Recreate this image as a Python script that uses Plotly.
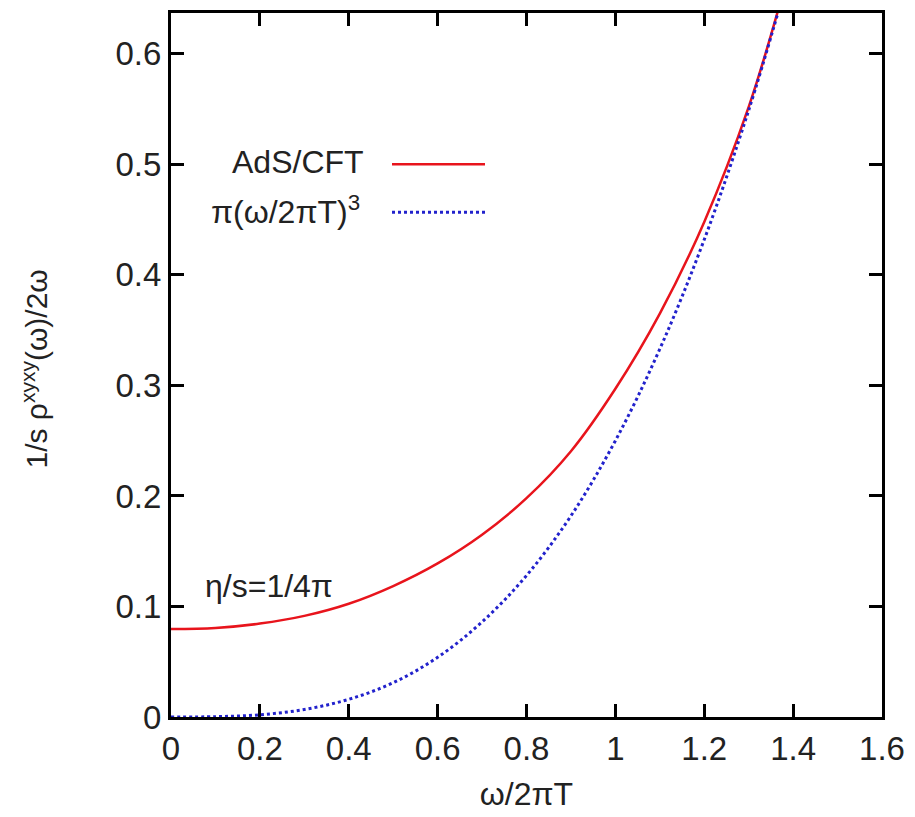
import plotly.graph_objects as go

# values
x_ads = [0.0, 0.1, 0.2, 0.3, 0.4, 0.5, 0.6, 0.7, 0.8, 0.9, 1.0, 1.1, 1.2, 1.3, 1.37]
y_ads = [0.0796, 0.0806, 0.0845, 0.0915, 0.1025, 0.1185, 0.1390, 0.1650, 0.1980, 0.2405,
         0.2970, 0.3650, 0.4480, 0.5520, 0.6450]

x_cube = [0.0, 0.1, 0.2, 0.3, 0.4, 0.5, 0.6, 0.7, 0.8, 0.9, 1.0, 1.1, 1.2, 1.3, 1.37]
y_cube = [0.0, 0.0003, 0.002, 0.0068, 0.016, 0.031, 0.054, 0.086, 0.128, 0.182,
          0.250, 0.333, 0.432, 0.549, 0.643]

x_ticks = [0, 0.2, 0.4, 0.6, 0.8, 1.0, 1.2, 1.4, 1.6]
x_labels = ["0", "0.2", "0.4", "0.6", "0.8", "1", "1.2", "1.4", "1.6"]
y_ticks = [0, 0.1, 0.2, 0.3, 0.4, 0.5, 0.6]
y_labels = ["0", "0.1", "0.2", "0.3", "0.4", "0.5", "0.6"]

FONT = "Liberation Sans, Arial, sans-serif"
TXT = "#222222"
RED = "#e8141c"
BLUE = "#2222cc"

fig = go.Figure()
fig.add_trace(go.Scatter(x=x_ads, y=y_ads, mode="lines",
                         line=dict(color=RED, width=2.5, shape="spline"), showlegend=False))
fig.add_trace(go.Scatter(x=x_cube, y=y_cube, mode="lines",
                         line=dict(color=BLUE, width=3, dash="dot", shape="spline"), showlegend=False))

axis_common = dict(showgrid=False, zeroline=False, showline=True, linecolor="black", linewidth=3,
                   mirror="ticks", ticks="inside", ticklen=13, tickwidth=3, tickcolor="black",
                   tickfont=dict(family=FONT, size=33, color=TXT))

fig.update_xaxes(range=[0, 1.6], tickvals=x_ticks, ticktext=x_labels,
                 title=dict(text="ω/2πT", font=dict(family=FONT, size=32, color=TXT), standoff=18),
                 **axis_common)
fig.update_yaxes(range=[0, 0.637], tickvals=y_ticks, ticktext=y_labels, **axis_common)

# page has an 8px body margin: figure placed so plot area spans 171..882 x 10..717 on screen
OFF = 8
W, H = 915 - OFF, 817 - OFF
L, R, T, B = 171 - OFF, 33, 10 - OFF, 100
pw, ph = W - L - R, H - T - B


def px(xp):
    return (xp - OFF - L) / pw


def py(yp):
    return 1 - (yp - OFF - T) / ph


fig.add_annotation(x=px(35), y=py(368), xref="paper", yref="paper", xanchor="center", yanchor="middle",
                   textangle=-90, text="1/s ρ<sup>xyxy</sup>(ω)/2ω", showarrow=False,
                   font=dict(family=FONT, size=30, color=TXT))

# legend (gnuplot style: text then sample)
fig.add_annotation(x=px(366), y=py(160), xref="paper", yref="paper", xanchor="right", yanchor="middle",
                   text="AdS/CFT", showarrow=False, font=dict(family=FONT, size=32, color=TXT))
fig.add_annotation(x=px(362), y=py(208), xref="paper", yref="paper", xanchor="right", yanchor="middle",
                   text="π(ω/2πT)<sup>3</sup>", showarrow=False, font=dict(family=FONT, size=32, color=TXT))
fig.add_shape(type="line", xref="paper", yref="paper", x0=px(392), x1=px(485), y0=py(162), y1=py(162),
              line=dict(color=RED, width=2.5))
fig.add_shape(type="line", xref="paper", yref="paper", x0=px(392), x1=px(485), y0=py(210), y1=py(210),
              line=dict(color=BLUE, width=3, dash="dot"))
fig.add_annotation(x=px(203), y=py(585), xref="paper", yref="paper", xanchor="left", yanchor="middle",
                   text="η/s=1/4π", showarrow=False, font=dict(family=FONT, size=32, color=TXT))

fig.update_layout(width=W, height=H, margin=dict(l=L, r=R, t=T, b=B),
                  plot_bgcolor="white", paper_bgcolor="white", showlegend=False)

fig.write_html("out.html")
